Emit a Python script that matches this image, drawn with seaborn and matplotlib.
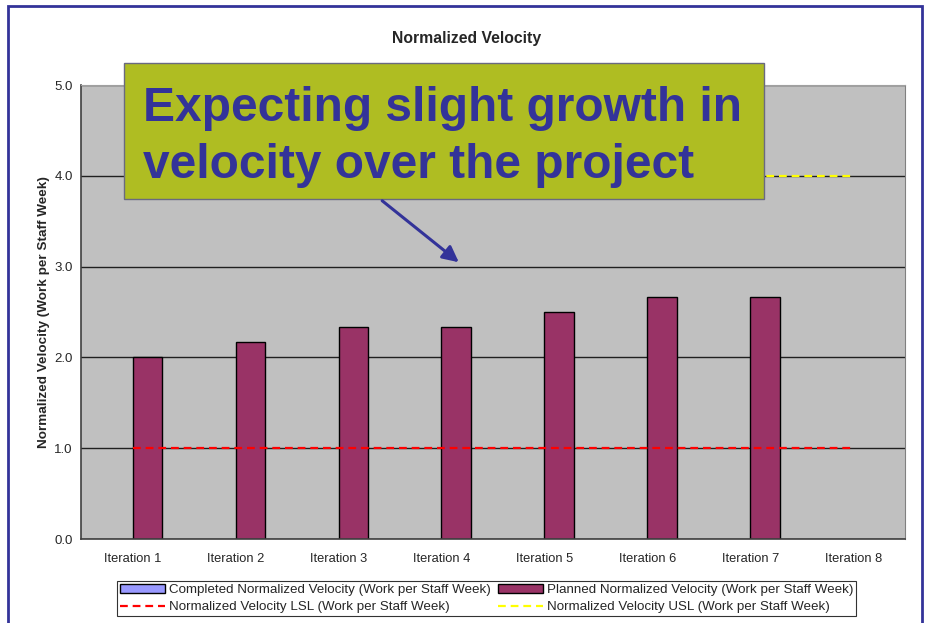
import numpy as np
import pandas as pd
import matplotlib.pyplot as plt
import seaborn as sns
from matplotlib.patches import Rectangle, FancyArrowPatch
from matplotlib.lines import Line2D
from matplotlib.patches import Patch

# ---------------- data ----------------
iteraciones = ['Iteration 1', 'Iteration 2', 'Iteration 3', 'Iteration 4',
               'Iteration 5', 'Iteration 6', 'Iteration 7', 'Iteration 8']
completada = [np.nan, np.nan, np.nan, np.nan, np.nan, np.nan, np.nan, np.nan]
planeada = [2.0, 2.17, 2.33, 2.33, 2.5, 2.67, 2.67, np.nan]
lsl = [1.0, 1.0, 1.0, 1.0, 1.0, 1.0, 1.0, 1.0]
usl = [4.0, 4.0, 4.0, 4.0, 4.0, 4.0, 4.0, 4.0]

s_comp = 'Completed Normalized Velocity (Work per Staff Week)'
s_plan = 'Planned Normalized Velocity (Work per Staff Week)'
s_lsl = 'Normalized Velocity LSL (Work per Staff Week)'
s_usl = 'Normalized Velocity USL (Work per Staff Week)'

barras = pd.DataFrame({'Iteracion': iteraciones, s_comp: completada, s_plan: planeada})
dd = pd.melt(barras, id_vars=['Iteracion'], var_name='Serie')

limites = pd.DataFrame({'pos': np.arange(len(iteraciones)), s_lsl: lsl, s_usl: usl})

colores = {s_comp: '#9999FF', s_plan: '#993366', s_lsl: '#FF0000', s_usl: '#FFFF00'}
guiones = (0, (3.5, 2.2))

# ---------------- figure ----------------
sns.set_style("white")
plt.rcParams['font.family'] = ['Liberation Sans', 'DejaVu Sans']

fig = plt.figure(figsize=(9.27, 6.23), dpi=100)
ax = fig.add_axes([81 / 927, 1 - 539 / 623, 824 / 927, 454 / 623])
ax.set_facecolor('#C0C0C0')

sns.barplot(data=dd, x='Iteracion', y='value', hue='Serie', hue_order=[s_comp, s_plan],
            palette=colores, width=0.58, edgecolor='black', linewidth=1,
            errorbar=None, legend=False, saturation=1, ax=ax)

for serie in [s_lsl, s_usl]:
    sns.lineplot(data=limites, x='pos', y=serie, color=colores[serie], lw=1.6,
                 dashes=False, ax=ax, zorder=4, linestyle=guiones)

ax.set_xlim(-0.5, len(iteraciones) - 0.5)
ax.set_ylim(0, 5)
ax.set_yticks(np.arange(0, 5.01, 1.0))
ax.set_yticklabels([f'{v:.1f}' for v in np.arange(0, 5.01, 1.0)])
ax.set_xticks(np.arange(len(iteraciones)))
ax.set_xticklabels(iteraciones)
ax.set_xticks(np.arange(-0.5, len(iteraciones)), minor=True)
ax.tick_params(axis='x', which='major', length=0, pad=10, labelsize=9.3)
ax.tick_params(axis='x', which='minor', length=4, width=1, color='#404040', direction='out')
ax.tick_params(axis='y', length=4, width=1, color='#404040', direction='out', pad=2, labelsize=9.5)

ax.yaxis.grid(True, color='#202020', lw=1)
ax.set_axisbelow(True)
for lado in ['left', 'bottom']:
    ax.spines[lado].set_color('#404040')
    ax.spines[lado].set_linewidth(1.2)
ax.spines['top'].set_color('#A0A0A0')
ax.spines['right'].set_color('#808080')

ax.set_xlabel('')
ax.set_ylabel('Normalized Velocity (Work per Staff Week)', fontsize=9.7, fontweight='bold', labelpad=3)
fig.text(467 / 927, 1 - 38 / 623, 'Normalized Velocity', ha='center', va='center',
         fontsize=11.3, fontweight='bold')

# legend (rows: completed / planned, then LSL / USL)
manejadores = [Patch(facecolor=colores[s_comp], edgecolor='black', lw=1),
               Line2D([], [], color=colores[s_lsl], lw=1.6, linestyle=guiones),
               Patch(facecolor=colores[s_plan], edgecolor='black', lw=1),
               Line2D([], [], color=colores[s_usl], lw=1.6, linestyle=guiones)]
leg = fig.legend(manejadores, [s_comp, s_lsl, s_plan, s_usl], ncol=2, loc='center',
                 bbox_to_anchor=(486.5 / 927, 1 - 598.5 / 623), fontsize=9.6, frameon=True,
                 fancybox=False, edgecolor='black', handlelength=3.4, handletextpad=0.3,
                 columnspacing=0.5, labelspacing=0.35, borderpad=0.2, borderaxespad=0)
leg.get_frame().set_linewidth(0.8)

# callout
fig.patches.append(Rectangle((124 / 927, 1 - 199 / 623), 640 / 927, 136 / 623,
                             transform=fig.transFigure, facecolor='#AFBD22',
                             edgecolor='#6A6A80', lw=1, zorder=5))
for linea, base in [('Expecting slight growth in', 121), ('velocity over the project', 178)]:
    fig.text(143 / 927, 1 - base / 623, linea, ha='left', va='baseline', fontsize=34.5,
             fontweight='bold', color='#333399', zorder=6)
fig.patches.append(FancyArrowPatch((380 / 927, 1 - 199 / 623), (461 / 927, 1 - 264 / 623),
                                   transform=fig.transFigure, arrowstyle='-|>',
                                   mutation_scale=24, color='#333399', lw=2.2, zorder=6))

# outer frame
fig.patches.append(Rectangle((8 / 927, -0.05), 914 / 927, 1 - 6 / 623 + 0.05,
                             transform=fig.transFigure, fill=False,
                             edgecolor='#333399', lw=2, zorder=7))

plt.savefig('out.png', dpi=100)
